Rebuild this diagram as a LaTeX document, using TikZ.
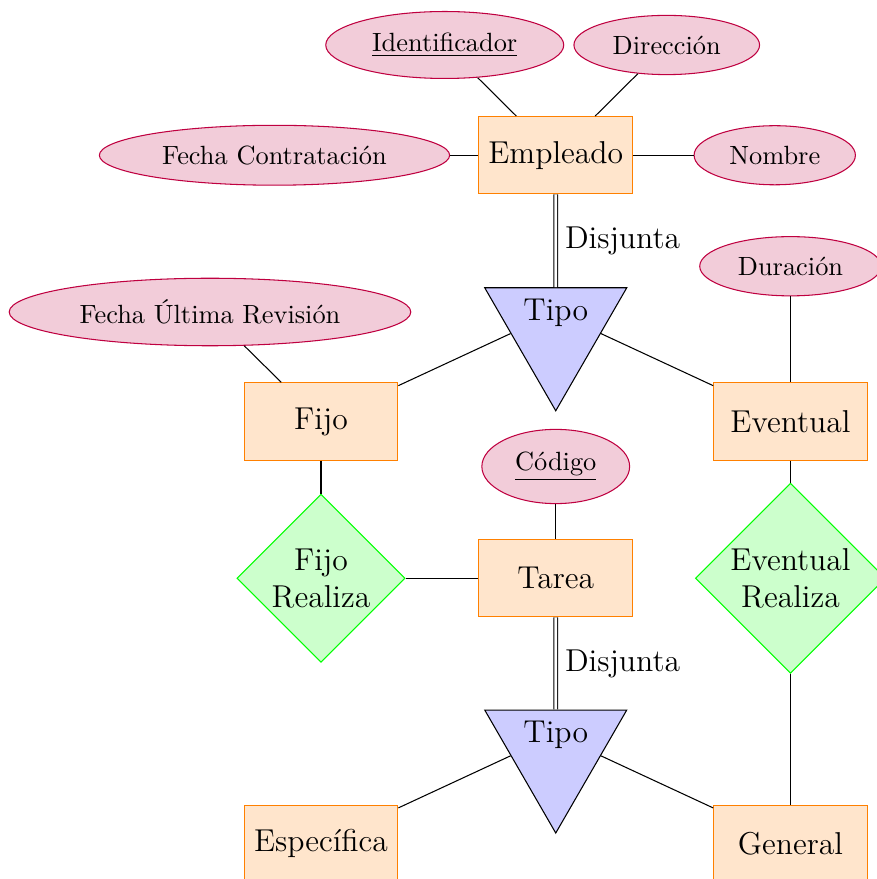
\documentclass[tikz,border=0pt]{standalone}
\usepackage{tikz}
\usetikzlibrary{shapes.geometric}

\begin{document}
\begin{tikzpicture}[
  entidad/.style={draw=orange, fill=orange!20, font=\large, minimum width=2.05cm, minimum height=1.03cm},
  atributo/.style={ellipse, draw=purple, fill=purple!20, inner sep=4.4pt},
  relacion/.style={diamond, aspect=1, draw=green, fill=green!20, font=\large, align=center, inner sep=1pt},
  jerarquia/.style={isosceles triangle, isosceles triangle apex angle=60, shape border rotate=270, draw, fill=blue!20, font=\large, minimum width=1.64cm, minimum height=1.64cm},
  disjunta/.style={double, double distance=1pt}
]
\useasboundingbox (-7.41,-4.01) rectangle (4.28,7.71);

% Empleado
\node[entidad] (empleado) at (0,5.64) {Empleado};
\node[atributo] (identificador) at (-1.48,7.11) {\underline{Identificador}};
\node[atributo] (direccion) at (1.48,7.11) {Dirección};
\node[atributo] (fechaC) at (-3.75,5.64) {Fecha Contratación};
\node[atributo] (nombre) at (2.92,5.64) {Nombre};

\draw (identificador) -- (empleado);
\draw (direccion) -- (empleado);
\draw (fechaC) -- (empleado);
\draw (nombre) -- (empleado);

% Jerarquia de Empleado
\node[jerarquia, anchor=lower side] (tipoE) at (0,3.88) {Tipo};
\draw[disjunta] (empleado) -- node[right, font=\large] {Disjunta} (tipoE);

\node[entidad] (fijo) at (-3.13,2.09) {Fijo};
\node[entidad] (eventual) at (3.13,2.09) {Eventual};
\node[atributo] (fechaU) at (-4.61,3.55) {Fecha Última Revisión};
\node[atributo] (duracion) at (3.13,4.16) {Duración};

\draw (tipoE) -- (fijo);
\draw (tipoE) -- (eventual);
\draw (fechaU) -- (fijo);
\draw (duracion) -- (eventual);

% Tarea y relaciones
\node[entidad] (tarea) at (0,0) {Tarea};
\node[atributo] (codigo) at (0,1.49) {\underline{Código}};
\node[relacion] (fijoR) at (-3.13,0) {Fijo\\Realiza};
\node[relacion] (eventualR) at (3.13,0) {Eventual\\Realiza};

\draw (codigo) -- (tarea);
\draw (fijo) -- (fijoR);
\draw (fijoR) -- (tarea);
\draw (eventual) -- (eventualR);

% Jerarquia de Tarea
\node[jerarquia, anchor=lower side] (tipoT) at (0,-1.75) {Tipo};
\draw[disjunta] (tarea) -- node[right, font=\large] {Disjunta} (tipoT);

\node[entidad] (especifica) at (-3.13,-3.54) {Específica};
\node[entidad] (general) at (3.13,-3.54) {General};

\draw (tipoT) -- (especifica);
\draw (tipoT) -- (general);
\draw (eventualR) -- (general);
\end{tikzpicture}
\end{document}
